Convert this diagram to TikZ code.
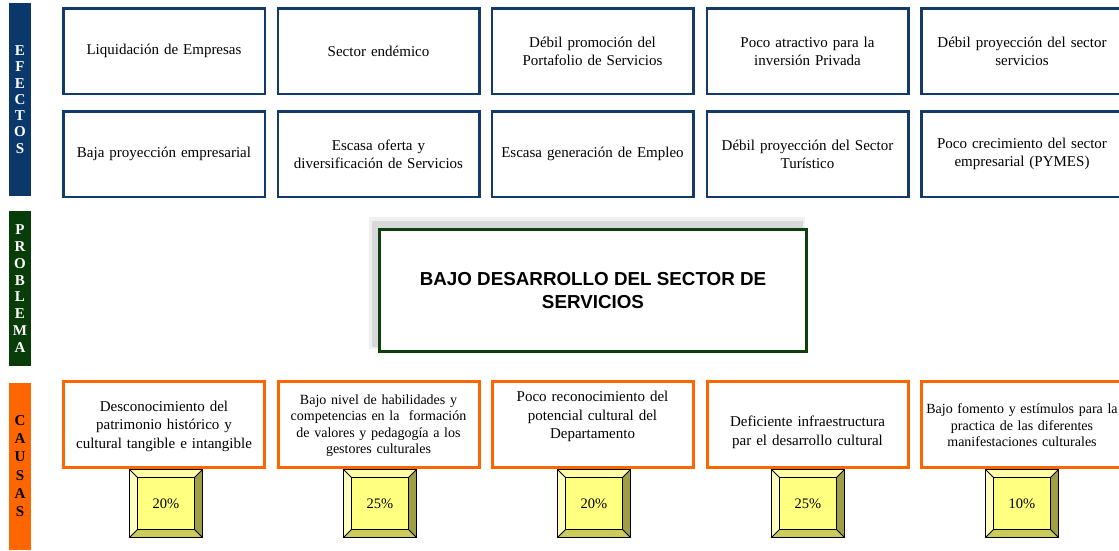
\documentclass[tikz,border=0pt]{standalone}
\usepackage{fontspec}
\setmainfont{Liberation Serif}
\setsansfont{Liberation Sans}
\definecolor{navybar}{RGB}{10,56,106}
\definecolor{navyline}{RGB}{20,58,105}
\definecolor{greenbar}{RGB}{8,60,8}
\definecolor{greenline}{RGB}{12,64,12}
\definecolor{orng}{RGB}{255,102,0}
\definecolor{bevface}{RGB}{255,255,128}
\definecolor{bevtopc}{RGB}{255,255,165}
\definecolor{bevleftc}{RGB}{255,255,190}
\definecolor{bevrightc}{RGB}{158,158,68}
\definecolor{bevbotc}{RGB}{204,204,92}
\tikzset{
  sidebar/.style={minimum width=22pt, inner sep=0pt, text=white, align=center,
    font=\bfseries\fontsize{15}{16.3}\selectfont},
  efbox/.style={draw=navyline, line width=2.5pt, fill=white, minimum width=201.5pt,
    minimum height=85.5pt, inner sep=0pt, align=center, text width=196pt,
    font=\fontsize{15}{18}\selectfont},
  cabox/.style={draw=orng, line width=3pt, fill=white, minimum width=201pt,
    minimum height=86pt, inner sep=0pt},
  catext/.style={align=center, inner sep=0pt, text width=196pt,
    font=\fontsize{15}{18.5}\selectfont},
  catextsm/.style={align=center, inner sep=0pt, text width=198pt,
    font=\fontsize{14}{16.5}\selectfont},
  bev/.style={minimum width=72pt, minimum height=67pt, inner sep=0pt},
  pct/.style={inner sep=0pt, font=\fontsize{14.5}{16}\selectfont},
}
\newcommand\bevelbox[3]{%
  \node[bev] (#1) at (#2,503.5) {};
  \fill[bevtopc] (#1.north west) -- (#1.north east) -- ++(-8,8) -- ([shift={(8,8)}]#1.north west) -- cycle;
  \fill[bevleftc] (#1.north west) -- (#1.south west) -- ++(8,-8) -- ([shift={(8,8)}]#1.north west) -- cycle;
  \fill[bevrightc] (#1.north east) -- (#1.south east) -- ++(-8,-8) -- ([shift={(-8,8)}]#1.north east) -- cycle;
  \fill[bevbotc] (#1.south west) -- (#1.south east) -- ++(-8,-8) -- ([shift={(8,-8)}]#1.south west) -- cycle;
  \fill[bevface] ([shift={(8,8)}]#1.north west) rectangle ([shift={(-8,-8)}]#1.south east);
  \draw[line width=0.8pt] ([shift={(8,8)}]#1.north west) rectangle ([shift={(-8,-8)}]#1.south east);
  \draw[line width=0.8pt] (#1.north west) -- ++(8,8) (#1.north east) -- ++(-8,8)
     (#1.south west) -- ++(8,-8) (#1.south east) -- ++(-8,-8);
  \draw[line width=1pt] (#1.north west) rectangle (#1.south east);
  \node[pct] (#1t) at (#1.center) {#3};
}
\begin{document}
\begin{tikzpicture}[x=1pt,y=-1pt]
\useasboundingbox (0,0) rectangle (1119,550);
\clip (0,0) rectangle (1119,550);
\fill[white] (0,0) rectangle (1119,550);

% side bars
\node[sidebar, fill=navybar, minimum height=193pt] (efbar) at (20,99.5) {E\\F\\E\\C\\T\\O\\S};
\node[sidebar, fill=greenbar, minimum height=155pt, font=\bfseries\fontsize{15}{16.8}\selectfont] (prbar) at (20,288.5) {P\\R\\O\\B\\L\\E\\M\\A};
\node[sidebar, fill=orng, minimum height=167pt, text=black, font=\bfseries\fontsize{15}{18.3}\selectfont] (cabar) at (20,466) {C\\A\\U\\S\\A\\S};

% effects row 1
\node[efbox] (e11) at (164,51) {Liquidación de Empresas};
\node[efbox] (e12) at (378.5,51) {Sector endémico};
\node[efbox] (e13) at (592.5,51) {Débil promoción del\\Portafolio de Servicios};
\node[efbox] (e14) at (807.5,51) {Poco atractivo para la\\inversión Privada};
\node[efbox] (e15) at (1022,51) {Débil proyección del sector\\servicios};
% effects row 2
\node[efbox] (e21) at (164,154) {Baja proyección empresarial};
\node[efbox] (e22) at (378.5,154) {Escasa oferta y\\diversificación de Servicios};
\node[efbox] (e23) at (592.5,154) {Escasa generación de Empleo};
\node[efbox] (e24) at (807.5,154) {Débil proyección del Sector\\Turístico};
\node[efbox] (e25) at (1022,154) {Poco crecimiento del sector\\empresarial (PYMES)};

% problem
\fill[gray!12] (369,217) rectangle (805,349);
\fill[gray!30] (372,221) rectangle (803,347);
\node[draw=greenline, line width=3pt, fill=white, minimum width=427pt, minimum height=122pt, inner sep=0pt,
  align=center, font=\sffamily\bfseries\fontsize{18.8}{23}\selectfont] (prob) at (593,290.5)
  {BAJO DESARROLLO DEL SECTOR DE\\SERVICIOS};

% causes
\node[cabox] (c1) at (164,424.5) {};
\node[cabox] (c2) at (378.5,424.5) {};
\node[cabox] (c3) at (592.5,424.5) {};
\node[cabox] (c4) at (807.5,424.5) {};
\node[cabox] (c5) at (1022,424.5) {};
\node[catext] (c1t) at ([yshift=-1.5pt]c1.center) {Desconocimiento del\\patrimonio histórico y\\cultural tangible e intangible};
\node[catextsm] (c2t) at ([yshift=-1pt]c2.center) {Bajo nivel de habilidades y\\competencias en la~ formación\\de valores y pedagogía a los\\gestores culturales};
\node[catext] (c3t) at ([yshift=8pt]c3.center) {Poco reconocimiento del\\potencial cultural del\\Departamento};
\node[catext] (c4t) at ([yshift=-8pt]c4.center) {Deficiente infraestructura\\par el desarrollo cultural};
\node[catextsm] (c5t) at ([yshift=-1pt]c5.center) {Bajo fomento y estímulos para la\\practica de las diferentes\\manifestaciones culturales};

% percentage blocks
\bevelbox{p1}{166}{20\%}
\bevelbox{p2}{380}{25\%}
\bevelbox{p3}{594}{20\%}
\bevelbox{p4}{808}{25\%}
\bevelbox{p5}{1022}{10\%}
\end{tikzpicture}
\end{document}
